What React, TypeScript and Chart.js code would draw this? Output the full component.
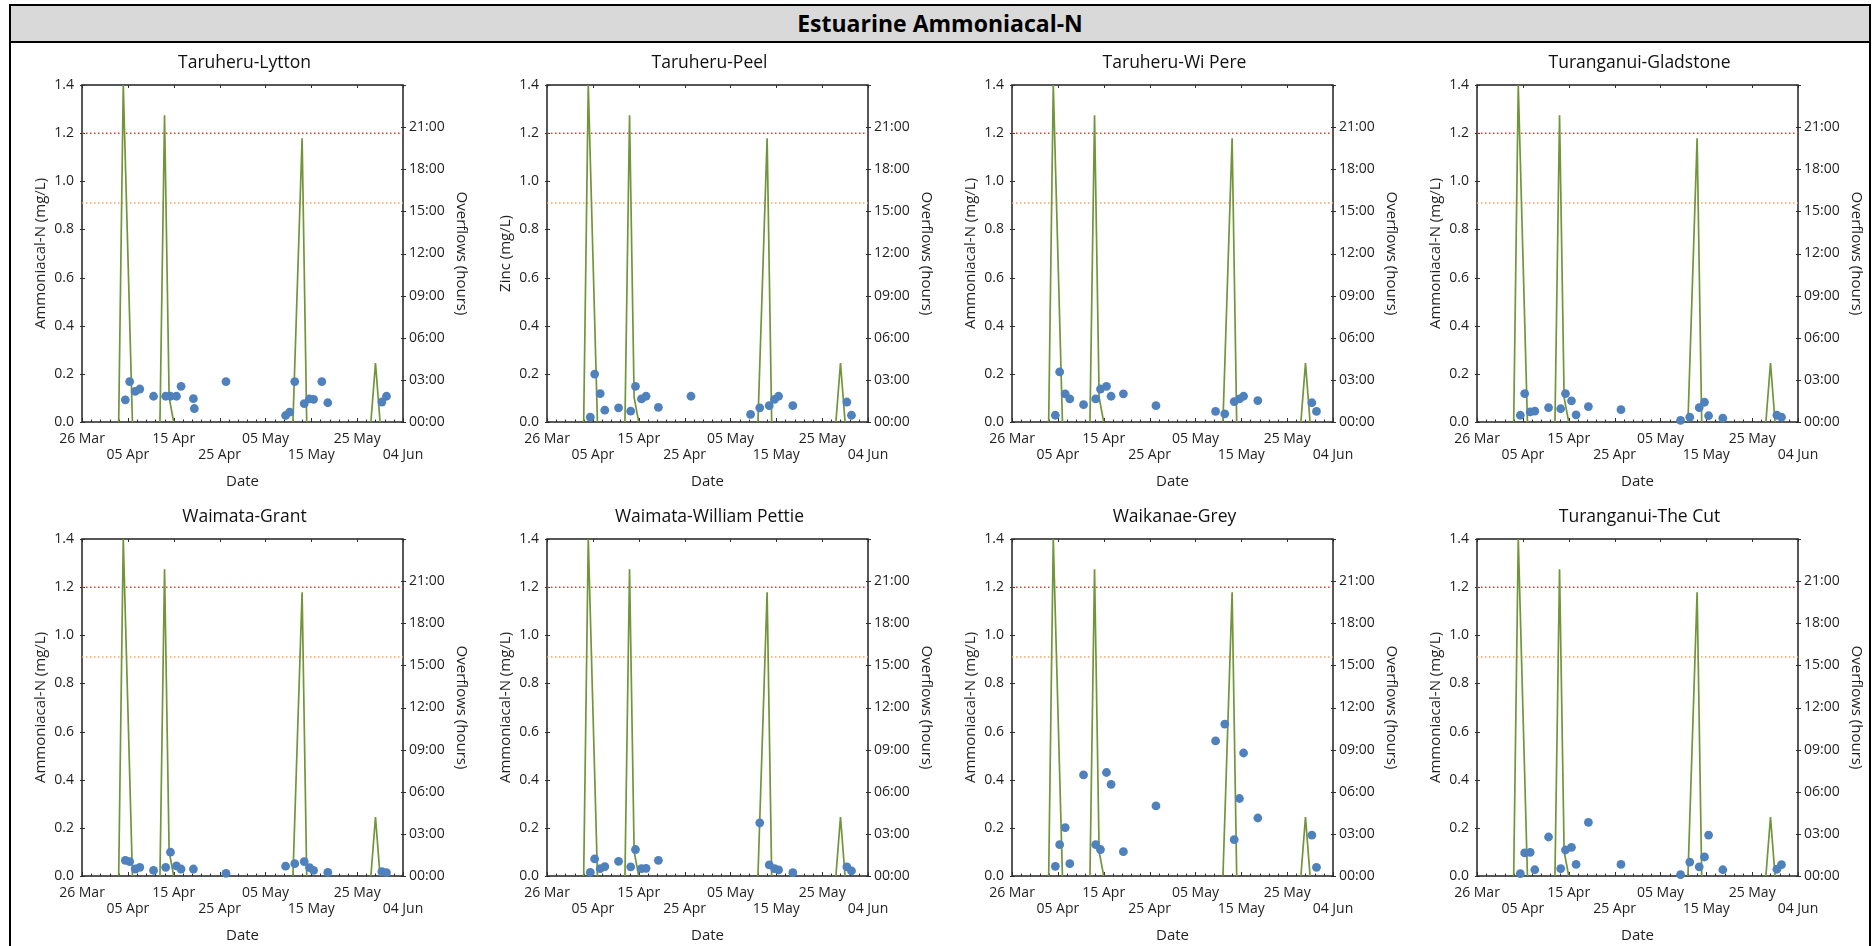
import React, { useEffect, useRef } from 'react';
import { Chart, registerables } from 'chart.js';

Chart.register(...registerables);
Chart.defaults.font.family = "'Open Sans', sans-serif";
Chart.defaults.color = '#1f1f1f';

// ---- data -------------------------------------------------------------
const START = '2021-03-26T00:00';
const DAY_SPAN = 70;

const xTickLabels = ['26 Mar', '05 Apr', '15 Apr', '25 Apr', '05 May', '15 May', '25 May', '04 Jun'];

const siteNames = [
  'Taruheru-Lytton',
  'Taruheru-Peel',
  'Taruheru-Wi Pere',
  'Turanganui-Gladstone',
  'Waimata-Grant',
  'Waimata-William Pettie',
  'Waikanae-Grey',
  'Turanganui-The Cut',
];

const yAxisTitles = [
  'Ammoniacal-N (mg/L)',
  'Zinc (mg/L)',
  'Ammoniacal-N (mg/L)',
  'Ammoniacal-N (mg/L)',
  'Ammoniacal-N (mg/L)',
  'Ammoniacal-N (mg/L)',
  'Ammoniacal-N (mg/L)',
  'Ammoniacal-N (mg/L)',
];

// sampling runs (shared by all sites)
const sampleTimes = [
  '2021-04-04T10:45', '2021-04-05T09:30', '2021-04-06T14:30', '2021-04-07T14:30',
  '2021-04-10T14:30', '2021-04-13T06:00', '2021-04-14T07:00', '2021-04-15T14:30',
  '2021-04-16T14:30', '2021-04-19T07:00', '2021-04-19T12:00', '2021-04-26T09:30',
  '2021-05-09T09:30', '2021-05-10T07:00', '2021-05-11T09:30', '2021-05-13T11:00',
  '2021-05-14T14:30', '2021-05-15T12:00', '2021-05-17T07:00', '2021-05-18T14:30',
  '2021-05-30T09:30', '2021-05-31T09:30',
];

const taruheruLytton = [0.092, 0.168, 0.127, 0.137, 0.107, 0.107, 0.107, 0.107, 0.148, 0.097, 0.056, 0.168, 0.027, 0.041, 0.168, 0.076, 0.096, 0.094, 0.168, 0.080, 0.083, 0.107];
const taruheruPeel = [0.020, 0.199, 0.118, 0.049, 0.059, 0.045, 0.148, 0.096, 0.107, 0.061, null, 0.107, 0.032, null, 0.059, 0.068, 0.094, 0.107, null, 0.068, 0.083, 0.028];
const taruheruWiPere = [0.028, 0.208, 0.117, 0.096, 0.072, 0.096, 0.137, 0.148, 0.107, 0.117, null, 0.068, 0.044, null, 0.034, 0.085, 0.096, 0.107, null, 0.089, 0.080, 0.044];
const turanganuiGladstone = [0.028, 0.118, 0.042, 0.045, 0.060, 0.055, 0.118, 0.088, 0.030, 0.064, null, 0.051, 0.007, null, 0.020, 0.060, 0.082, 0.026, null, 0.016, 0.028, 0.020];
const waimataGrant = [0.065, 0.060, 0.029, 0.036, 0.023, 0.036, 0.099, 0.042, 0.029, 0.029, null, 0.011, 0.041, null, 0.051, 0.060, 0.035, 0.023, null, 0.015, 0.018, 0.014];
const waimataWilliamPettie = [0.015, 0.071, 0.031, 0.039, 0.061, 0.038, 0.110, 0.031, 0.032, 0.065, null, null, null, null, 0.221, 0.046, 0.031, 0.025, null, 0.014, 0.038, 0.021];
const waikanaeGrey = [0.040, 0.130, 0.201, 0.051, 0.420, 0.130, 0.110, 0.430, 0.381, 0.101, null, 0.291, 0.561, null, 0.631, 0.151, 0.322, 0.511, null, 0.241, 0.170, 0.036];
const turanganuiTheCut = [0.010, 0.096, 0.098, 0.026, 0.162, 0.031, 0.108, 0.119, 0.048, 0.223, null, 0.048, 0.006, null, 0.058, 0.038, 0.079, 0.170, null, 0.026, 0.028, 0.047];

const siteValues = [
  taruheruLytton, taruheruPeel, taruheruWiPere, turanganuiGladstone,
  waimataGrant, waimataWilliamPettie, waikanaeGrey, turanganuiTheCut,
];

// wastewater overflow duration per day (hours)
const overflowDates = [
  '2021-04-03T00:00', '2021-04-04T00:00', '2021-04-05T00:00', '2021-04-06T00:00',
  '2021-04-12T00:00', '2021-04-13T00:00', '2021-04-14T00:00', '2021-04-15T00:00',
  '2021-05-11T00:00', '2021-05-12T00:00', '2021-05-13T00:00', '2021-05-14T00:00',
  '2021-05-28T00:00', '2021-05-29T00:00', '2021-05-30T00:00',
];
const overflowHours = [0, 24, 12, 0, 0, 21.85, 1.75, 0, 0, 10.1, 20.2, 0, 0, 4.2, 0];

// guideline levels (mg/L)
const guidelineHigh = 1.2;
const guidelineLow = 0.91;

// ---- helpers ----------------------------------------------------------
const startMs = Date.parse(START + ':00Z');
const toDay = (s: string) => (Date.parse(s + ':00Z') - startMs) / 86400000;

function overflowSeries() {
  const pts: { x: number; y: number | null }[] = [];
  overflowDates.forEach((d, i) => {
    const x = toDay(d);
    if (pts.length && x - (pts[pts.length - 1].x as number) > 1.5) {
      pts.push({ x: x - 0.5, y: null });
    }
    pts.push({ x, y: overflowHours[i] });
  });
  return pts;
}

const axisFrame = {
  id: 'axisFrame',
  beforeDatasetsDraw(chart: any) {
    const { ctx, chartArea, scales } = chart;
    const { left, right, top, bottom } = chartArea;
    ctx.save();
    ctx.strokeStyle = '#2e2e2e';
    ctx.lineWidth = 1.6;
    ctx.strokeRect(left, top, right - left, bottom - top);
    ctx.lineWidth = 1;
    ctx.beginPath();
    for (let d = 0; d <= DAY_SPAN; d += 2) {
      const px = Math.round(scales.x.getPixelForValue(d)) + 0.5;
      const major = d % 10 === 0;
      ctx.moveTo(px, bottom);
      ctx.lineTo(px, bottom - (major ? 4 : 2.5));
      if (major) {
        ctx.moveTo(px, top);
        ctx.lineTo(px, top + 3);
      }
    }
    scales.y.ticks.forEach((t: any) => {
      const py = Math.round(scales.y.getPixelForValue(t.value)) + 0.5;
      ctx.moveTo(left - 2, py);
      ctx.lineTo(left + 3, py);
    });
    scales.y1.ticks.forEach((t: any) => {
      const py = Math.round(scales.y1.getPixelForValue(t.value)) + 0.5;
      ctx.moveTo(right - 2, py);
      ctx.lineTo(right + 3, py);
    });
    ctx.stroke();
    ctx.restore();
  },
};

const PANEL_W = 465;
const PANEL_H = 454;

function Panel({ index }: { index: number }) {
  const ref = useRef<HTMLCanvasElement>(null);

  useEffect(() => {
    if (!ref.current) return;
    const values = siteValues[index];
    const points = sampleTimes
      .map((t, i) => ({ x: toDay(t), y: values[i] }))
      .filter((p) => p.y !== null);

    const chart = new Chart(ref.current, {
      type: 'scatter',
      data: {
        datasets: [
          {
            type: 'scatter',
            data: points as any,
            yAxisID: 'y',
            backgroundColor: '#4f81bd',
            pointRadius: 4.4,
            pointBorderWidth: 0,
            clip: false as any,
            order: 0,
          },
          {
            type: 'line',
            data: overflowSeries() as any,
            yAxisID: 'y1',
            borderColor: '#71953a',
            borderWidth: 1.7,
            pointRadius: 0,
            spanGaps: false,
            order: 1,
          },
          {
            type: 'line',
            data: [{ x: 0, y: guidelineHigh }, { x: DAY_SPAN, y: guidelineHigh }],
            yAxisID: 'y',
            borderColor: '#ff3030',
            borderWidth: 1.5,
            borderDash: [1.5, 2.5],
            pointRadius: 0,
            order: 2,
          },
          {
            type: 'line',
            data: [{ x: 0, y: guidelineLow }, { x: DAY_SPAN, y: guidelineLow }],
            yAxisID: 'y',
            borderColor: '#f9a25a',
            borderWidth: 1.5,
            borderDash: [1.5, 2.5],
            pointRadius: 0,
            order: 2,
          },
        ],
      },
      options: {
        responsive: false,
        animation: false,
        layout: { padding: 0 },
        plugins: {
          legend: { display: false },
          tooltip: { enabled: false },
          title: {
            display: true,
            text: siteNames[index],
            color: '#111111',
            font: { size: 17.5, weight: 'normal' },
            padding: { top: 10.5, bottom: 11.5 },
          },
        },
        scales: {
          x: {
            type: 'linear',
            position: 'bottom',
            min: 0,
            max: DAY_SPAN,
            grid: { display: false, drawTicks: false },
            border: { display: false },
            ticks: {
              stepSize: 10,
              autoSkip: false,
              maxRotation: 0,
              padding: 8.3,
              font: { size: 14 },
              callback: (v: any) => {
                const i = Math.round(Number(v) / 10);
                const label = xTickLabels[i] ?? '';
                return i % 2 === 0 ? [label, ''] : ['', label];
              },
            },
            title: {
              display: true,
              text: 'Date',
              font: { size: 15 },
              padding: { top: 0, bottom: 5.3 },
            },
            afterFit: (s: any) => {
              s.height = 74;
            },
          },
          y: {
            type: 'linear',
            position: 'left',
            min: 0,
            max: 1.4,
            grid: { display: false, drawTicks: false },
            border: { display: false },
            ticks: {
              stepSize: 0.2,
              padding: 8,
              font: { size: 14 },
              callback: (v: any) => Number(v).toFixed(1),
            },
            title: {
              display: true,
              text: yAxisTitles[index],
              font: { size: 15 },
              padding: { top: 20, bottom: 0 },
            },
            afterFit: (s: any) => {
              s.width = 70;
            },
          },
          y1: {
            type: 'linear',
            position: 'right',
            min: 0,
            max: 24,
            grid: { display: false, drawTicks: false },
            border: { display: false },
            ticks: {
              stepSize: 3,
              padding: 6,
              font: { size: 14 },
              callback: (v: any) =>
                Number(v) >= 24 ? '' : String(Math.round(Number(v))).padStart(2, '0') + ':00',
            },
            title: {
              display: true,
              text: 'Overflows (hours)',
              font: { size: 15 },
              padding: { top: 6.3, bottom: 0 },
            },
            afterFit: (s: any) => {
              s.width = 74;
            },
          },
        },
      } as any,
      plugins: [axisFrame],
    });
    return () => chart.destroy();
  }, [index]);

  const col = index % 4;
  const row = Math.floor(index / 4);
  return (
    <canvas
      ref={ref}
      width={PANEL_W}
      height={PANEL_H}
      style={{
        position: 'absolute',
        left: 12 + col * PANEL_W,
        top: 42 + row * PANEL_H,
        width: PANEL_W,
        height: PANEL_H,
      }}
    />
  );
}

export default function App() {
  return (
    <div
      style={{
        position: 'absolute',
        left: 0,
        top: 0,
        width: 1872,
        height: 946,
        overflow: 'hidden',
        background: '#ffffff',
        fontFamily: "'Open Sans', sans-serif",
      }}
    >
      <div
        style={{
          position: 'absolute',
          left: 9,
          top: 4,
          width: 1858,
          height: 1000,
          border: '2px solid #000',
        }}
      >
        <div
          style={{
            height: 35,
            background: '#d9d9d9',
            borderBottom: '2px solid #000',
            textAlign: 'center',
            lineHeight: '35px',
            fontSize: 23,
            fontWeight: 700,
            color: '#000',
          }}
        >
          Estuarine Ammoniacal-N
        </div>
      </div>
      {siteNames.map((_, i) => (
        <Panel key={i} index={i} />
      ))}
    </div>
  );
}
